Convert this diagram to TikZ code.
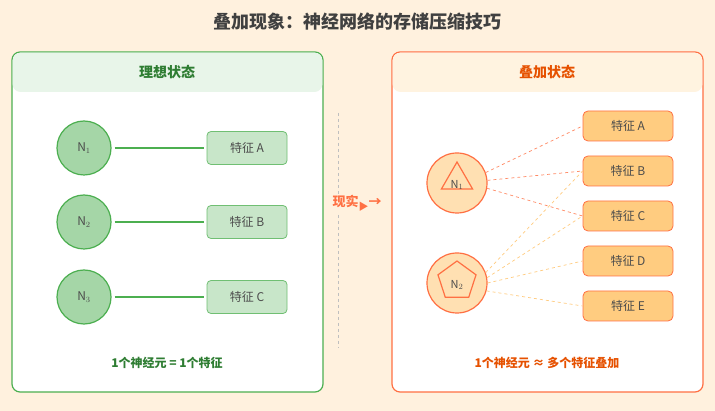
\documentclass[tikz,border=0pt]{standalone}
\usepackage{fontspec}
\setmainfont{Noto Sans CJK SC}
\usetikzlibrary{shapes.geometric}
\definecolor{bgcream}{HTML}{FFF1DE}
\definecolor{idealgreen}{HTML}{4CAF50}
\definecolor{idealdark}{HTML}{2E7D32}
\definecolor{idealfill}{HTML}{A5D6A7}
\definecolor{idealbox}{HTML}{C8E6C9}
\definecolor{idealhead}{HTML}{E8F5E9}
\definecolor{superorange}{HTML}{FF7043}
\definecolor{superdark}{HTML}{E65100}
\definecolor{superfill}{HTML}{FFE0B2}
\definecolor{superbox}{HTML}{FFCC80}
\definecolor{superhead}{HTML}{FFF3E0}
\definecolor{linkred}{HTML}{FF8A65}
\tikzset{
  panel/.style={draw, line width=1.2pt, rounded corners=8pt, fill=white},
  neuronG/.style={circle, draw=idealgreen, line width=1.2pt, fill=idealfill, minimum size=54pt, font=\fontsize{12}{12}\selectfont, text=black!70},
  featG/.style={draw=idealgreen!80, line width=0.8pt, rounded corners=4pt, fill=idealbox, minimum width=80pt, minimum height=33pt, font=\fontsize{12}{12}\selectfont, text=black!70},
  neuronO/.style={circle, draw=superorange, line width=1.2pt, fill=superfill, minimum size=60pt, text=black!70},
  featO/.style={draw=superorange, line width=0.8pt, rounded corners=5pt, fill=superbox, minimum width=90pt, minimum height=30pt, font=\fontsize{12}{12}\selectfont, text=black!70},
  linkA/.style={dashed, draw=linkred, line width=0.7pt},
  linkB/.style={dashed, draw=superbox, line width=0.7pt},
}
\begin{document}
\begin{tikzpicture}[x=1pt, y=-1pt]
% background
\fill[bgcream] (0,0) rectangle (715,411);
\useasboundingbox (0,0) rectangle (715,411);
\node[font=\bfseries\fontsize{18}{18}\selectfont, text=black!75] (title) at (357,22) {叠加现象：神经网络的存储压缩技巧};

% ideal panel
\draw[panel, draw=idealgreen] (12,52) rectangle (323,392);
\fill[idealhead, rounded corners=8pt] (12.6,52.6) -- (322.4,52.6) -- (322.4,92) -- (12.6,92) -- cycle;
\node[font=\bfseries\fontsize{14}{14}\selectfont, text=idealdark] (idealtitle) at (167,72) {理想状态};
\foreach \i/\y/\f in {1/148/A, 2/222/B, 3/297/C}{
  \node[neuronG] (g\i) at (84,\y) {N$_{\i}$};
  \node[featG] (gf\i) at (247,\y) {特征 \f};
  \draw[idealgreen, line width=1.8pt] ([xshift=3pt]g\i.east) -- ([xshift=-3pt]gf\i.west);
}
\node[font=\bfseries\fontsize{12}{12}\selectfont, text=idealdark] (idealnote) at (167,363) {1个神经元 = 1个特征};

% separator
\coordinate (septop) at (338,113);
\coordinate (sepbot) at (338,348);
\draw[dashed, gray!50, line width=1pt] (septop) -- (sepbot);
\node[font=\bfseries\fontsize{13}{13}\selectfont, text=superorange, fill=bgcream, inner sep=1pt] (real) at (357,203) {现实\raisebox{-4pt}{\fontsize{10}{10}\selectfont▶}→};

% superposition panel
\draw[panel, draw=superorange] (392,52) rectangle (703,392);
\fill[superhead, rounded corners=8pt] (392.6,52.6) -- (702.4,52.6) -- (702.4,92) -- (392.6,92) -- cycle;
\node[font=\bfseries\fontsize{14}{14}\selectfont, text=superdark] (supertitle) at (547,72) {叠加状态};
\foreach \f/\y in {A/126, B/171, C/216, D/261, E/306}{
  \node[featO] (f\f) at (628,\y) {特征 \f};
}
\node[neuronO] (n1) at (457,183) {};
\node[neuronO] (n2) at (457,283) {};
\node[regular polygon, regular polygon sides=3, draw=superorange, line width=1.2pt, minimum size=36pt, inner sep=0pt] (tri) at (457,180) {};
\node[regular polygon, regular polygon sides=5, draw=superorange, line width=1.2pt, minimum size=40pt, inner sep=0pt] (pent) at (457,281) {};
\node[font=\fontsize{11}{11}\selectfont, text=black!70] (n1lab) at (457,185) {N$_1$};
\node[font=\fontsize{11}{11}\selectfont, text=black!70] (n2lab) at (457,285) {N$_2$};
\draw[linkA] (n1.20) -- (fA.west);
\draw[linkA] (n1.5) -- (fB.west);
\draw[linkA] (n1.-10) -- (fC.west);
\draw[linkB] (n2.20) -- (fB.west);
\draw[linkB] (n2.10) -- (fC.west);
\draw[linkB] (n2.0) -- (fD.west);
\draw[linkB] (n2.-15) -- (fE.west);
\node[font=\bfseries\fontsize{12}{12}\selectfont, text=superdark] (supernote) at (547,363) {1个神经元 ≈ 多个特征叠加};
\end{tikzpicture}
\end{document}
